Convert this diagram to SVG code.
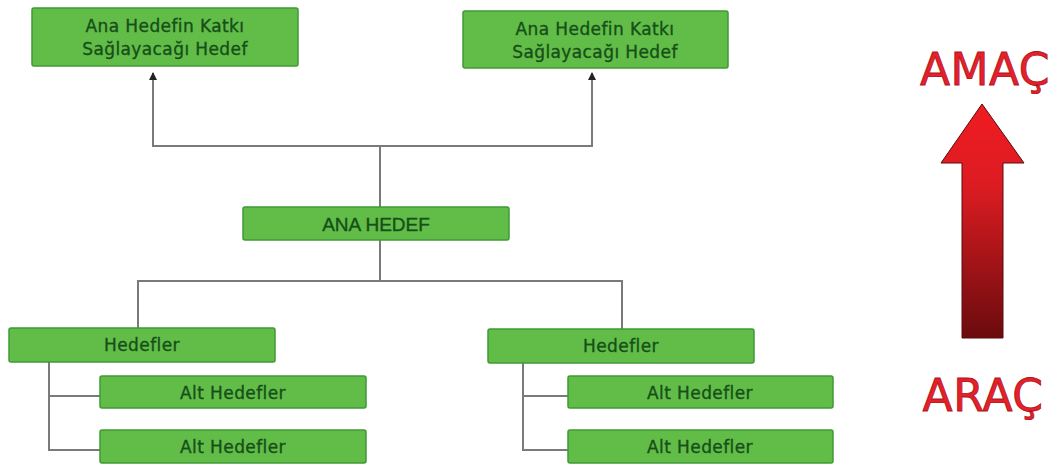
<svg xmlns="http://www.w3.org/2000/svg" width="1055" height="465" viewBox="0 0 1055 465">
  <style>
    .box { fill: #62bd48; stroke: #3f9a34; stroke-width: 1.5; }
    .lbl { font-family: "DejaVu Sans", Verdana, sans-serif; font-size: 17px; fill: #164f19; stroke: #164f19; stroke-width: 0.35; text-anchor: middle; letter-spacing: 0.4px; }
    .main { font-family: "Liberation Sans", Arial, sans-serif; font-size: 19px; fill: #164f19; stroke: #164f19; stroke-width: 0.4; text-anchor: middle; }
    .wire { fill: none; stroke: #7a7a7a; stroke-width: 2; }
    .big { font-family: "DejaVu Sans", Verdana, sans-serif; font-size: 44px; fill: #e4212b; stroke: #b0141c; stroke-width: 0.8; text-anchor: middle; letter-spacing: 0.5px; }
  </style>
  <defs>
    <marker id="tip" markerUnits="userSpaceOnUse" markerWidth="8" markerHeight="8" refX="7" refY="4" orient="auto">
      <path d="M0,0 L8,4 L0,8 z" fill="#222"/>
    </marker>
    <linearGradient id="redFade" x1="0" y1="0" x2="0" y2="1">
      <stop offset="0" stop-color="#f01c22"/>
      <stop offset="0.35" stop-color="#dc1c22"/>
      <stop offset="1" stop-color="#6a0b0d"/>
    </linearGradient>
  </defs>
  <rect width="1055" height="465" fill="#ffffff"/>

  <!-- tree connectors -->
  <g id="connectors">
    <path class="wire" d="M380,146 H153 V73" marker-end="url(#tip)"/>
    <path class="wire" d="M380,146 H592 V73" marker-end="url(#tip)"/>
    <path class="wire" d="M380,146 V207"/>
    <path class="wire" d="M380,240 V281"/>
    <path class="wire" d="M138,328 V281 H622 V329"/>
    <path class="wire" d="M49,362 V450 H100"/>
    <path class="wire" d="M49,396 H100"/>
    <path class="wire" d="M523,363 V450 H568"/>
    <path class="wire" d="M523,396 H568"/>
  </g>

  <g id="ust-hedef-1">
    <rect class="box" x="32" y="8" width="266" height="58" rx="2"/>
    <text class="lbl" x="165" y="32">Ana Hedefin Katkı</text>
    <text class="lbl" x="165" y="55">Sağlayacağı Hedef</text>
  </g>
  <g id="ust-hedef-2">
    <rect class="box" x="463" y="11" width="265" height="57" rx="2"/>
    <text class="lbl" x="595" y="35">Ana Hedefin Katkı</text>
    <text class="lbl" x="595" y="58">Sağlayacağı Hedef</text>
  </g>
  <g id="ana-hedef">
    <rect class="box" x="243" y="207" width="266" height="33" rx="2"/>
    <text class="main" x="376" y="231">ANA HEDEF</text>
  </g>
  <g id="hedefler-1">
    <rect class="box" x="9" y="328" width="266" height="34" rx="2"/>
    <text class="lbl" x="142" y="351">Hedefler</text>
  </g>
  <g id="alt-hedef-1a">
    <rect class="box" x="100" y="376" width="266" height="32" rx="2"/>
    <text class="lbl" x="233" y="399">Alt Hedefler</text>
  </g>
  <g id="alt-hedef-1b">
    <rect class="box" x="100" y="430" width="266" height="33" rx="2"/>
    <text class="lbl" x="233" y="453">Alt Hedefler</text>
  </g>
  <g id="hedefler-2">
    <rect class="box" x="488" y="329" width="266" height="34" rx="2"/>
    <text class="lbl" x="621" y="352">Hedefler</text>
  </g>
  <g id="alt-hedef-2a">
    <rect class="box" x="568" y="376" width="265" height="32" rx="2"/>
    <text class="lbl" x="700" y="399">Alt Hedefler</text>
  </g>
  <g id="alt-hedef-2b">
    <rect class="box" x="568" y="430" width="265" height="33" rx="2"/>
    <text class="lbl" x="700" y="453">Alt Hedefler</text>
  </g>

  <!-- means-to-ends scale -->
  <g id="amac">
    <text class="big" x="985" y="85">AMAÇ</text>
  </g>
  <g id="yukari-ok">
    <polygon points="982,104 1024,163 1003,163 1003,338 962,338 962,163 941,163" fill="url(#redFade)" stroke="#5a0a0c" stroke-width="1"/>
  </g>
  <g id="arac">
    <text class="big" x="983" y="411">ARAÇ</text>
  </g>
</svg>
